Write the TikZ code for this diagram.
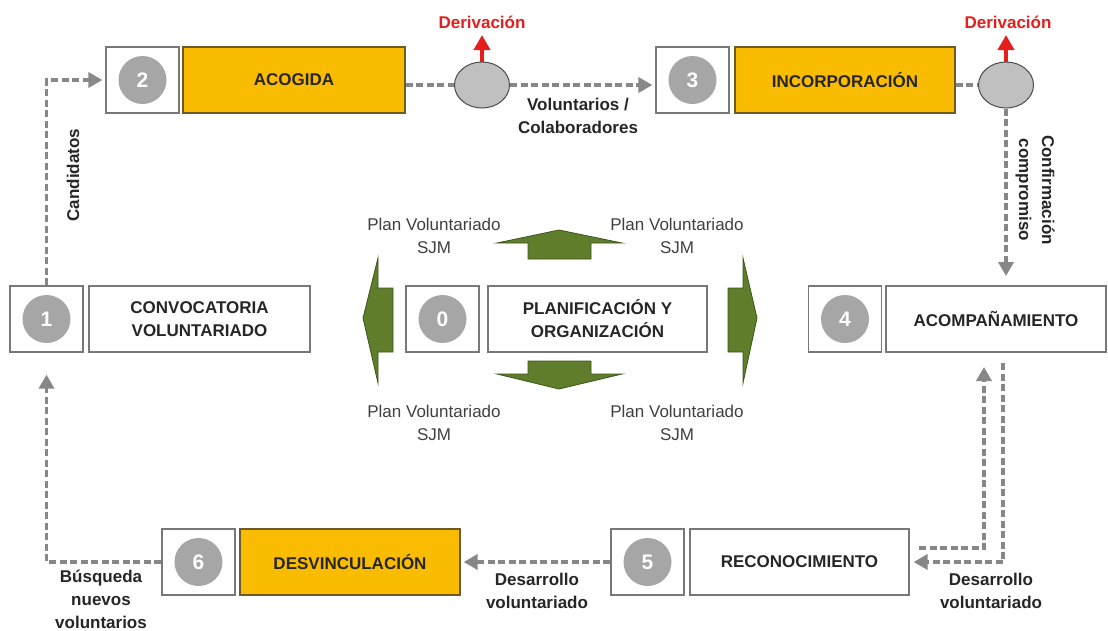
\documentclass[tikz,border=0pt]{standalone}
\usepackage{fontspec}
\setmainfont{Liberation Sans}
\usetikzlibrary{arrows.meta,shapes.geometric}
\definecolor{boxgray}{RGB}{120,120,120}
\definecolor{numgray}{RGB}{166,166,166}
\definecolor{conngray}{RGB}{135,135,135}
\definecolor{gold}{RGB}{250,188,0}
\definecolor{goldedge}{RGB}{110,90,40}
\definecolor{olive}{RGB}{95,125,43}
\definecolor{oliveedge}{RGB}{60,85,25}
\definecolor{txt}{RGB}{38,38,38}
\definecolor{plantxt}{RGB}{64,64,64}
\definecolor{derred}{RGB}{230,30,30}
\definecolor{ellfill}{RGB}{192,192,192}
\newcommand\fsz{\fontsize{17}{23}\selectfont}
\tikzset{
  numbox/.style={draw=boxgray,line width=1.3pt,fill=white,minimum width=73pt,minimum height=66pt,inner sep=0pt},
  labbox/.style={draw=boxgray,line width=1.3pt,fill=white,minimum height=66pt,inner sep=0pt,align=center,font=\fsz\bfseries,text=txt},
  goldbox/.style={labbox,fill=gold,draw=goldedge},
  numcirc/.style={circle,fill=numgray,minimum size=48pt,inner sep=0pt,text=white,font=\fontsize{21}{21}\selectfont\bfseries},
  ell/.style={ellipse,draw=black!70,line width=1pt,fill=ellfill,minimum width=55pt,minimum height=46pt,inner sep=0pt},
  connline/.style={draw=conngray,line width=3.8pt,dash pattern=on 7pt off 3.5pt},
  conn/.style={connline,-{Triangle[length=14pt,width=15pt]}},
  lbl/.style={font=\fsz\bfseries,text=txt,align=center,inner sep=0pt},
  plan/.style={font=\fsz,text=plantxt,align=center,inner sep=0pt},
  redarr/.style={draw=derred,line width=4pt,-{Triangle[length=15pt,width=16pt]}},
  redlbl/.style={font=\fsz\bfseries,text=derred,inner sep=0pt},
  greenarr/.style={fill=olive,draw=oliveedge,line width=0.8pt,line join=miter}
}
\begin{document}
\begin{tikzpicture}[x=1pt,y=-1pt]
\useasboundingbox[fill=white] (0,0) rectangle (1108,630);

% boxes
\node[numbox] (n1) at (46.5,319) {};
\node[numcirc] (c1n) at (n1) {1};
\node[labbox,minimum width=221pt] (conv) at (199.5,319) {CONVOCATORIA\\VOLUNTARIADO};

\node[numbox] (n2) at (142.5,80) {};
\node[numcirc] (c2n) at (n2) {2};
\node[goldbox,minimum width=222pt] (acog) at (294,80) {ACOGIDA};

\node[numbox] (n3) at (692.5,80) {};
\node[numcirc] (c3n) at (n3) {3};
\node[goldbox,minimum width=220pt] (inc) at (845,80) {INCORPORACIÓN};

\node[numbox] (n4) at (845,319) {};
\node[numcirc] (c4n) at (n4) {4};
\node[labbox,minimum width=220pt] (acomp) at (996,319) {ACOMPAÑAMIENTO};

\node[numbox] (n0) at (442.5,319) {};
\node[numcirc] (c0n) at (n0) {0};
\node[labbox,minimum width=219pt] (plan) at (597.5,319) {PLANIFICACIÓN Y\\ORGANIZACIÓN};

\node[numbox] (n5) at (647.5,562) {};
\node[numcirc] (c5n) at (n5) {5};
\node[labbox,minimum width=219pt] (rec) at (799.5,562) {RECONOCIMIENTO};

\node[numbox] (n6) at (198.5,562) {};
\node[numcirc] (c6n) at (n6) {6};
\node[goldbox,minimum width=220pt] (desv) at (350,562) {DESVINCULACIÓN};

% decision ellipses
\node[ell] (e1) at (482,85) {};
\node[ell] (e2) at (1006,85) {};

% derivation arrows
\coordinate (d1) at (482,35);
\coordinate (d2) at (1006,35);
\draw[redarr] (e1.north) -- (d1);
\draw[redarr] (e2.north) -- (d2);
\node[redlbl] (dl1) at (482,22) {Derivación};
\node[redlbl] (dl2) at (1008,22) {Derivación};

% connectors
\draw[conn,shorten >=3pt] (n1.north) |- (n2.west);
\draw[connline] (acog.east |- e1.west) -- (e1.west);
\draw[conn,shorten >=3pt] (e1.east) -- (n3.west |- e1.east);
\draw[connline] (inc.east |- e2.west) -- (e2.west);
\coordinate (t4) at (1006,276);
\draw[conn] (e2.south) -- (t4);

\coordinate (b1) at (1003,363);
\draw[conn,shorten >=4pt] (b1) |- (rec.east);
\coordinate (a0) at (919,548);
\coordinate (a1) at (984,367);
\draw[conn] (a0) -| (a1);

\draw[conn,shorten >=3pt] (n5.west) -- (desv.east);
\draw[conn,shorten >=22pt] (n6.west) -| (n1.south);

% connector labels
\node[lbl,rotate=90] (lcand) at (73,175) {Candidatos};
\node[lbl] (lvol) at (578,116) {Voluntarios /\\Colaboradores};
\node[lbl,rotate=-90] (lconf) at (1035,190) {Confirmación\\compromiso};
\node[lbl] (ldes1) at (991,591) {Desarrollo\\voluntariado};
\node[lbl] (ldes2) at (537,591) {Desarrollo\\voluntariado};
\node[lbl] (lbus) at (101,599) {Búsqueda\\nuevos\\voluntarios};

% green arrows
\draw[greenarr] (528,259) -- (528,243) -- (497,243) -- (559,230) -- (622,243) -- (591,243) -- (591,259) -- cycle;
\draw[greenarr] (528,361) -- (528,374) -- (497,374) -- (559,389) -- (622,374) -- (591,374) -- (591,361) -- cycle;
\draw[greenarr] (393,288) -- (378,288) -- (378,258) -- (363,318) -- (378,383) -- (378,352) -- (393,352) -- cycle;
\draw[greenarr] (728,288) -- (743,288) -- (743,258) -- (757,318) -- (743,383) -- (743,352) -- (728,352) -- cycle;

\node[plan] (p1) at (434,236) {Plan Voluntariado\\SJM};
\node[plan] (p2) at (677,236) {Plan Voluntariado\\SJM};
\node[plan] (p3) at (434,423) {Plan Voluntariado\\SJM};
\node[plan] (p4) at (677,423) {Plan Voluntariado\\SJM};
\end{tikzpicture}
\end{document}
